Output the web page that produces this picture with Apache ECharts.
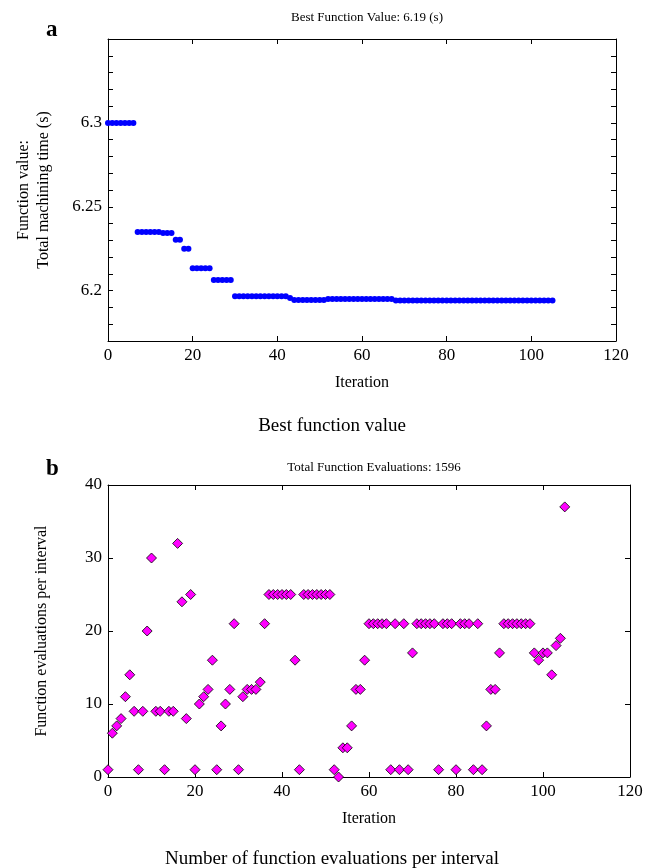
<!DOCTYPE html>
<html>
<head>
<meta charset="utf-8">
<script src="https://cdn.jsdelivr.net/npm/echarts@6/dist/echarts.min.js"></script>
<style>
html,body{margin:0;padding:0;background:#fff;}
#chart{width:654px;height:868px;}
</style>
</head>
<body>
<div id="chart"></div>
<script>
// ---- Data ----
var bestTitle = 'Best Function Value: 6.19 (s)';
var evalTitle = 'Total Function Evaluations: 1596';
var bestValues = [
  6.3, 6.3, 6.3, 6.3, 6.3, 6.3, 6.3,
  6.2350, 6.2350, 6.2350, 6.2350, 6.2350, 6.2350,
  6.2343, 6.2343, 6.2343,
  6.2303, 6.2303,
  6.2250, 6.2250,
  6.2133, 6.2133, 6.2133, 6.2133, 6.2133,
  6.2064, 6.2064, 6.2064, 6.2064, 6.2064,
  6.1967, 6.1967, 6.1967, 6.1967, 6.1967, 6.1967, 6.1967, 6.1967, 6.1967, 6.1967, 6.1967, 6.1967, 6.1967,
  6.1957,
  6.1945, 6.1945, 6.1945, 6.1945, 6.1945, 6.1945, 6.1945, 6.1945,
  6.1950, 6.1950, 6.1950, 6.1950, 6.1950, 6.1950, 6.1950, 6.1950, 6.1950, 6.1950, 6.1950, 6.1950, 6.1950, 6.1950, 6.1950, 6.1950,
  6.1941, 6.1941, 6.1941, 6.1941, 6.1941, 6.1941, 6.1941, 6.1941, 6.1941, 6.1941,
  6.1941, 6.1941, 6.1941, 6.1941, 6.1941, 6.1941, 6.1941, 6.1941, 6.1941, 6.1941,
  6.1941, 6.1941, 6.1941, 6.1941, 6.1941, 6.1941, 6.1941, 6.1941, 6.1941, 6.1941,
  6.1941, 6.1941, 6.1941, 6.1941, 6.1941, 6.1941, 6.1941, 6.1941
];
var evalCounts = [
  1, 6, 7, 8, 11, 14, 9, 1, 9, 20,
  30, 9, 9, 1, 9, 9, 32, 24, 8, 25,
  1, 10, 11, 12, 16, 1, 7, 10, 12, 21,
  1, 11, 12, 12, 12, 13, 21, 25, 25, 25,
  25, 25, 25, 16, 1, 25, 25, 25, 25, 25,
  25, 25, 1, 0, 4, 4, 7, 12, 12, 16,
  21, 21, 21, 21, 21, 1, 21, 1, 21, 1,
  17, 21, 21, 21, 21, 21, 1, 21, 21, 21,
  1, 21, 21, 21, 1, 21, 1, 7, 12, 12,
  17, 21, 21, 21, 21, 21, 21, 21, 17, 16,
  17, 17, 14, 18, 19, 37
];
var xTicks = [0, 20, 40, 60, 80, 100, 120];
var topYLabels = [6.2, 6.25, 6.3];
var botYTicks = [0, 10, 20, 30, 40];

// ---- Chart ----
var serif = '"Liberation Serif", "DejaVu Serif", serif';
function pairs(arr){ return arr.map(function(v,i){ return [i, v]; }); }

function xAx(gi, pos, show, name){
  return {
    type:'value', gridIndex:gi, position:pos, min:xTicks[0], max:xTicks[xTicks.length-1], interval:20,
    axisLine:{show:true, onZero:false, lineStyle:{color:'#000', width:1}},
    axisTick:{show:true, inside:true, length:5, lineStyle:{color:'#000'}},
    axisLabel:{show:show, color:'#000', fontFamily:serif, fontSize:17, margin:6},
    splitLine:{show:false},
    name: name || '', nameLocation:'middle', nameGap:34,
    nameTextStyle:{color:'#000', fontFamily:serif, fontSize:16}
  };
}

var option = {
  animation:false,
  backgroundColor:'#fff',
  title:[
    {text:bestTitle, left:362, top:6, textAlign:'center', textStyle:{fontFamily:serif, fontSize:13, fontWeight:'normal', color:'#000'}},
    {text:'a', left:41, top:14, textStyle:{fontFamily:serif, fontSize:23, fontWeight:'bold', color:'#000'}},
    {text:'Best function value', left:327, top:412, textAlign:'center', textStyle:{fontFamily:serif, fontSize:19, fontWeight:'normal', color:'#000'}},
    {text:evalTitle, left:369, top:456, textAlign:'center', textStyle:{fontFamily:serif, fontSize:13, fontWeight:'normal', color:'#000'}},
    {text:'b', left:41, top:453, textStyle:{fontFamily:serif, fontSize:23, fontWeight:'bold', color:'#000'}},
    {text:'Number of function evaluations per interval', left:327, top:845, textAlign:'center', textStyle:{fontFamily:serif, fontSize:19, fontWeight:'normal', color:'#000'}}
  ],
  grid:[
    {left:108, right:38, top:39, height:302},
    {left:108, right:24, top:485, height:292}
  ],
  xAxis:[
    xAx(0,'bottom',true,'Iteration'),
    xAx(0,'top',false),
    xAx(1,'bottom',true,'Iteration'),
    xAx(1,'top',false)
  ],
  yAxis:[
    {type:'value', gridIndex:0, position:'left', min:6.17, max:6.35, interval:0.01,
      axisLine:{show:true, onZero:false, lineStyle:{color:'#000'}},
      axisTick:{show:true, inside:true, length:5, lineStyle:{color:'#000'}},
      axisLabel:{color:'#000', fontFamily:serif, fontSize:17, margin:6,
        formatter:function(v){
          for (var i=0;i<topYLabels.length;i++){ if (Math.abs(v-topYLabels[i])<1e-6) return String(topYLabels[i]); }
          return '';
        }},
      splitLine:{show:false},
      name:'Function value:\nTotal machining time (s)', nameLocation:'middle', nameGap:54,
      nameTextStyle:{color:'#000', fontFamily:serif, fontSize:16, lineHeight:20}
    },
    {type:'value', gridIndex:0, position:'right', min:6.17, max:6.35, interval:0.01,
      axisLine:{show:true, onZero:false, lineStyle:{color:'#000'}},
      axisTick:{show:true, inside:true, length:5, lineStyle:{color:'#000'}},
      axisLabel:{show:false}, splitLine:{show:false}
    },
    {type:'value', gridIndex:1, position:'left', min:botYTicks[0], max:botYTicks[botYTicks.length-1], interval:10,
      axisLine:{show:true, onZero:false, lineStyle:{color:'#000'}},
      axisTick:{show:true, inside:true, length:5, lineStyle:{color:'#000'}},
      axisLabel:{color:'#000', fontFamily:serif, fontSize:17, margin:6},
      splitLine:{show:false},
      name:'Function evaluations per interval', nameLocation:'middle', nameGap:58,
      nameTextStyle:{color:'#000', fontFamily:serif, fontSize:16}
    },
    {type:'value', gridIndex:1, position:'right', min:botYTicks[0], max:botYTicks[botYTicks.length-1], interval:10,
      axisLine:{show:true, onZero:false, lineStyle:{color:'#000'}},
      axisTick:{show:true, inside:true, length:5, lineStyle:{color:'#000'}},
      axisLabel:{show:false}, splitLine:{show:false}
    }
  ],
  series:[
    {type:'scatter', xAxisIndex:0, yAxisIndex:0, data:pairs(bestValues),
      symbol:'circle', symbolSize:6, itemStyle:{color:'#0000FF', opacity:1}},
    {type:'scatter', xAxisIndex:2, yAxisIndex:2, data:pairs(evalCounts),
      symbol:'diamond', symbolSize:10, itemStyle:{color:'#FF00FF', borderColor:'#000', borderWidth:0.8, opacity:1}}
  ]
};

var chart = echarts.init(document.getElementById('chart'), null, {renderer:'canvas'});
chart.setOption(option);
</script>
</body>
</html>
